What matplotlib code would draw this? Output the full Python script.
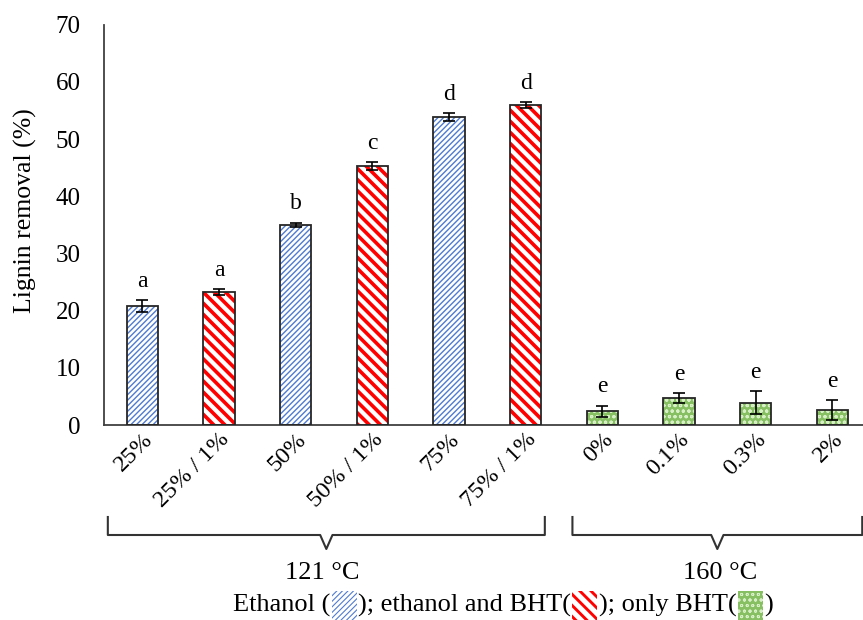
import numpy as np
import matplotlib
matplotlib.use("Agg")
import matplotlib.pyplot as plt
import matplotlib.transforms as mtransforms
from matplotlib.patches import Rectangle
from matplotlib.offsetbox import TextArea, DrawingArea, HPacker, AnchoredOffsetbox

plt.rcParams['font.family'] = ['Liberation Serif', 'DejaVu Serif']

# data
labels = ['25%', '25% / 1%', '50%', '50% / 1%', '75%', '75% / 1%', '0%', '0.1%', '0.3%', '2%']
values = [20.8, 23.3, 35.0, 45.3, 53.9, 56.0, 2.4, 4.7, 3.9, 2.6]
errors = [1.0, 0.5, 0.4, 0.7, 0.7, 0.5, 1.0, 0.9, 2.0, 1.8]
letters = ['a', 'a', 'b', 'c', 'd', 'd', 'e', 'e', 'e', 'e']
groups = ['eth', 'bht', 'eth', 'bht', 'eth', 'bht', 'only', 'only', 'only', 'only']
temp_labels = ['121 °C', '160 °C']
temp_spans = [(-0.45, 5.25), (5.61, 9.39)]
temp_label_shift = [-0.05, 0.04]

styles = {
    'eth': dict(face='white', hcol='#4F7BD0', hatch='//////', hlw=1.0),
    'bht': dict(face='white', hcol='#FF0000', hatch='\\\\\\', hlw=2.6),
    'only': dict(face='#86C063', hcol='#D8EFC8', hatch='ooo', hlw=0.8),
}

fig = plt.figure(figsize=(8.63, 6.2), dpi=100)
ax = fig.add_axes([0.1205, 0.3145, 0.8795, 0.6455])

x = np.arange(len(values))
w = 0.41
for i in range(len(values)):
    st = styles[groups[i]]
    with plt.rc_context({'hatch.linewidth': st['hlw']}):
        ax.bar(x[i], values[i], w, color=st['face'], edgecolor=st['hcol'],
               hatch=st['hatch'], linewidth=0, zorder=2)
    ax.bar(x[i], values[i], w, fill=False, edgecolor='#262626', linewidth=1.3, zorder=3)
ax.errorbar(x, values, yerr=errors, fmt='none', ecolor='black', elinewidth=1.2,
            capsize=4, capthick=1.2, zorder=4)
for i in range(len(values)):
    ax.annotate(letters[i], (x[i], values[i] + errors[i]), xytext=(0, 6),
                textcoords='offset points', ha='center', va='bottom', fontsize=17)

ax.set_xlim(-0.5, 9.4)
ax.set_ylim(0, 70)
ax.set_yticks(range(0, 71, 10))
ax.tick_params(axis='y', length=0, labelsize=18, pad=17)
ax.tick_params(axis='x', length=0, labelsize=17.5, pad=3)
ax.set_xticks(x)
ax.set_xticklabels(labels, rotation=45, ha='right', rotation_mode='anchor')
for s in ['top', 'right']:
    ax.spines[s].set_visible(False)
for s in ['left', 'bottom']:
    ax.spines[s].set_color('#404040')
    ax.spines[s].set_linewidth(1.3)
ax.set_ylabel('Lignin removal (%)', fontsize=18.5)
ax.yaxis.set_label_coords(-0.088, 0.535)

# brackets under the axis
trans = mtransforms.blended_transform_factory(ax.transData, fig.transFigure)
y_top, y_mid, y_tip = 1 - 517 / 620, 1 - 535 / 620, 1 - 549 / 620
for (a, b), t, sh in zip(temp_spans, temp_labels, temp_label_shift):
    c = (a + b) / 2
    d = 0.08
    xs = [a, a, c - d, c, c + d, b, b]
    ys = [y_top, y_mid, y_mid, y_tip, y_mid, y_mid, y_top]
    fig.add_artist(plt.Line2D(xs, ys, transform=trans, color='#333333', lw=1.5))
    fig.text(c + sh, 1 - 573 / 620, t, transform=trans, ha='center', va='center', fontsize=19)

# legend line with hatched swatches
def swatch(key):
    st = styles[key]
    da = DrawingArea(20, 20, 0, 0)
    with plt.rc_context({'hatch.linewidth': st['hlw'] * 0.8}):
        r = Rectangle((1, -2), 18, 22, facecolor=st['face'], edgecolor=st['hcol'],
                      hatch=st['hatch'], linewidth=0)
    da.add_artist(r)
    return da

tp = dict(fontsize=19)
parts = [TextArea('Ethanol (', textprops=tp), swatch('eth'),
         TextArea('); ethanol and BHT(', textprops=tp), swatch('bht'),
         TextArea('); only BHT(', textprops=tp), swatch('only'),
         TextArea(')', textprops=tp)]
box = HPacker(children=parts, align='center', pad=0, sep=0)
anch = AnchoredOffsetbox(loc='center', child=box, frameon=False,
                         bbox_to_anchor=(503 / 863, 1 - 605 / 620),
                         bbox_transform=fig.transFigure, borderpad=0, pad=0)
fig.add_artist(anch)

fig.savefig('out.png', dpi=100)
